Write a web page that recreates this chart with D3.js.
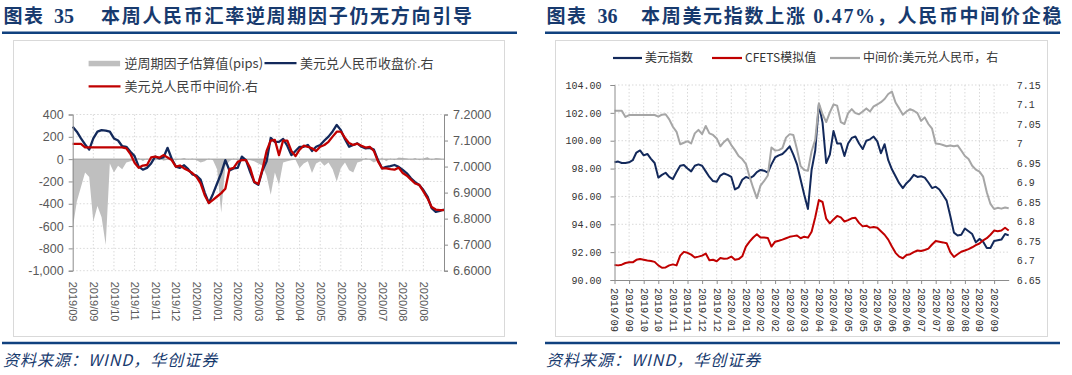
<!DOCTYPE html>
<html><head><meta charset="utf-8">
<script src="https://cdn.jsdelivr.net/npm/d3@7"></script>
<style>body{margin:0;background:#fff}svg{display:block}</style>
</head><body><svg id="c" width="1072" height="375"></svg>
<script>
// ---------- Left chart data ----------
const leftDateLabels = ["2019/09","2019/09","2019/10","2019/11","2019/11","2019/12","2020/01","2020/01","2020/02","2020/03","2020/04","2020/04","2020/05","2020/06","2020/06","2020/07","2020/08","2020/08"];
const reverseFactor = [-620,-380,-250,-120,-160,-560,-420,-520,-770,-40,
 -120,-60,-90,-30,-20,-10,10,-20,5,-10,
 -5,10,-15,-5,5,-10,0,10,-5,5,
 -10,-30,-20,5,-10,-90,-480,-60,-20,5,
 -10,15,-5,-10,-20,-40,-60,-150,-320,-120,
 -230,-30,-20,-10,-5,-80,-40,-20,-125,-40,
 -20,-60,-30,-90,-200,-80,-30,-100,-120,-30,
 -20,10,-5,-30,-10,10,-20,5,-10,15,
 10,5,-5,10,-10,5,20,-10,10,5,-5];
const usdCnyClose = [7.153,7.134,7.108,7.085,7.065,7.108,7.134,7.140,7.138,7.134,
 7.108,7.100,7.078,7.076,7.057,7.040,7.000,6.988,6.995,7.012,
 7.038,7.031,7.035,7.072,7.030,7.000,6.995,7.005,6.990,6.970,
 6.965,6.950,6.900,6.860,6.895,6.935,6.975,7.025,6.985,6.993,
 6.995,7.038,7.025,6.980,6.940,6.930,6.985,7.020,7.110,7.095,
 7.095,7.106,7.080,7.044,7.060,7.076,7.076,7.083,7.060,7.076,
 7.083,7.100,7.115,7.135,7.160,7.140,7.105,7.076,7.083,7.089,
 7.076,7.070,7.072,7.065,7.025,6.993,6.999,7.002,7.006,6.999,
 6.987,6.974,6.955,6.940,6.929,6.910,6.885,6.840,6.826,6.830,6.835];
const usdCnyMid = [7.087,7.087,7.087,7.074,7.074,7.074,7.074,7.074,7.074,7.074,
 7.074,7.074,7.074,7.070,7.048,7.015,6.995,7.004,7.006,7.035,
 7.038,7.034,7.044,7.035,7.025,7.000,7.004,6.993,6.985,6.975,
 6.960,6.935,6.890,6.860,6.872,6.885,6.898,6.915,6.990,6.995,
 7.018,7.025,7.025,6.995,6.942,6.933,6.990,7.060,7.100,7.102,
 7.044,7.100,7.100,7.060,7.040,7.065,7.080,7.076,7.070,7.060,
 7.076,7.083,7.095,7.115,7.134,7.134,7.110,7.090,7.083,7.088,
 7.080,7.073,7.076,7.060,7.020,6.993,6.993,6.990,6.988,6.996,
 6.975,6.965,6.950,6.935,6.930,6.905,6.878,6.845,6.835,6.833,6.833];
const leftTickValues = [400,200,0,-200,-400,-600,-800,-1000];
const leftTickLabels = ["400","200","0","-200","-400","-600","-800","-1,000"];
const rightTickValues = [7.2,7.1,7.0,6.9,6.8,6.7,6.6];
const rightTickLabels = ["7.2000","7.1000","7.0000","6.9000","6.8000","6.7000","6.6000"];

// ---------- Right chart data ----------
const rightDateLabels = ["2019/09","2019/09","2019/10","2019/10","2019/11","2019/11","2019/12","2019/12","2020/01","2020/01","2020/02","2020/02","2020/03","2020/03","2020/04","2020/04","2020/05","2020/05","2020/05","2020/06","2020/06","2020/07","2020/07","2020/08","2020/08","2020/09","2020/09"];
const usdIndex = [98.45,98.5,98.4,98.4,98.45,98.6,99.15,99.3,98.95,99.05,
 98.7,98.4,97.35,97.55,97.7,97.4,97.25,97.75,98.2,98.25,
 98.0,97.8,98.2,98.3,98.2,97.8,97.4,97.1,97.05,97.5,
 97.65,97.55,97.4,96.5,96.65,97.2,97.4,97.3,97.45,97.75,
 97.9,97.85,97.7,98.3,98.8,98.95,99.05,99.3,99.6,99.0,
 98.3,97.2,96.1,95.1,97.9,99.3,102.6,101.3,98.4,99.0,
 100.7,99.8,99.8,98.9,99.8,100.2,100.3,99.8,99.4,100.0,
 100.1,100.3,99.95,99.1,99.75,98.6,97.95,97.45,96.95,96.6,
 96.95,97.2,97.55,97.4,97.45,97.35,97.0,96.6,96.7,96.5,
 96.1,95.7,94.6,93.4,93.2,93.25,93.7,93.5,93.3,92.7,
 92.95,92.75,92.3,92.3,92.8,92.85,92.9,93.3,93.2];
const cfetsSim = [91.08,91.05,91.1,91.22,91.27,91.27,91.45,91.5,91.45,91.4,
 91.36,91.3,91.05,90.88,90.9,91.05,91.12,91.05,91.75,92.02,
 91.95,91.82,91.62,91.68,91.75,91.9,91.42,91.45,91.35,91.58,
 91.52,91.55,91.68,91.45,91.5,91.7,92.4,92.75,93.05,93.28,
 93.05,93.05,93.02,92.4,92.75,92.82,92.9,93.0,93.1,93.15,
 93.2,93.0,93.11,93.04,93.47,94.5,95.74,95.6,94.4,94.07,
 94.35,94.6,94.5,94.2,94.3,94.43,94.47,94.1,93.85,93.9,
 93.76,93.8,93.75,93.5,93.25,92.9,92.4,91.95,91.68,91.56,
 91.8,91.85,92.0,92.12,92.08,92.15,92.25,92.55,92.8,92.75,
 92.7,92.64,92.0,91.65,91.85,92.03,92.12,92.22,92.35,92.5,
 92.62,92.85,93.0,93.25,93.55,93.5,93.55,93.75,93.55];
const midUsdCny = [7.084,7.084,7.084,7.068,7.073,7.073,7.073,7.073,7.073,7.073,
 7.073,7.073,7.069,7.074,7.075,7.062,7.043,7.030,6.998,7.002,
 7.006,7.000,7.026,7.035,7.024,7.045,7.026,7.022,7.013,6.993,
 7.004,7.012,6.996,6.983,6.968,6.960,6.948,6.915,6.886,6.860,
 6.892,6.904,6.918,6.990,6.982,6.983,6.988,7.015,7.024,7.022,
 6.985,6.942,6.932,6.930,6.980,7.010,7.103,7.075,7.055,7.080,
 7.100,7.097,7.055,7.050,7.078,7.088,7.078,7.075,7.082,7.090,
 7.082,7.095,7.100,7.106,7.114,7.127,7.133,7.105,7.090,7.074,
 7.082,7.088,7.084,7.078,7.058,7.067,7.050,7.038,7.000,6.999,
 6.996,6.993,6.995,6.993,6.995,6.982,6.968,6.960,6.943,6.933,
 6.928,6.915,6.875,6.845,6.832,6.835,6.833,6.836,6.834];
const r2LeftTicks = [104,102,100,98,96,94,92,90];
const r2LeftLabels = ["104.00","102.00","100.00","98.00","96.00","94.00","92.00","90.00"];
const r2RightTicks = [7.15,7.1,7.05,7.0,6.95,6.9,6.85,6.8,6.75,6.7,6.65];
const r2RightLabels = ["7.15","7.1","7.05","7","6.95","6.9","6.85","6.8","6.75","6.7","6.65"];

// ---------- Drawing ----------
const svg = d3.select("#c");
svg.append("rect").attr("width",1072).attr("height",375).attr("fill","#fff");
const NAVY = "#13295B", RED = "#C00000", TITLE = "#173A6E";
const CJK = "'Noto Sans CJK SC', sans-serif";

function header(x0, x1, num, parts, numX, titleX) {
  const g = svg.append("g");
  g.append("text").attr("x", x0 + 1.5).attr("y", 23).attr("fill", TITLE)
    .style("font", "700 19px " + CJK).style("letter-spacing", "1.5px").text("图表");
  g.append("text").attr("x", numX).attr("y", 23).attr("fill", TITLE)
    .style("font", "700 20px 'Liberation Serif', serif").text(num);
  const t = g.append("text").attr("x", titleX).attr("y", 23).attr("fill", TITLE)
    .style("font", "700 19px " + CJK).style("letter-spacing", "1.7px");
  parts.forEach(p => {
    t.append("tspan").style("font-family", p.serif ? "'Liberation Serif', serif" : null)
      .style("font-size", p.serif ? "20px" : null).text(p.t);
  });
  g.append("line").attr("x1", x0).attr("x2", x1).attr("y1", 32.8).attr("y2", 32.8)
    .attr("stroke", "#10417F").attr("stroke-width", 2.6);
  g.append("line").attr("x1", x0).attr("x2", x1).attr("y1", 343).attr("y2", 343)
    .attr("stroke", "#10417F").attr("stroke-width", 2.6);
  g.append("text").attr("x", x0 + 1).attr("y", 366).attr("fill", TITLE)
    .style("font", "italic 16px " + CJK).style("letter-spacing", "1px").text("资料来源：WIND，华创证券");
}
header(2, 517, "35", [{t:"本周人民币汇率逆周期因子仍无方向引导"}], 54, 101);
header(545, 1060, "36", [{t:"本周美元指数上涨"},{t:" 0.47%",serif:true},{t:"，人民币中间价企稳"}], 597.5, 641);

// boxes
svg.append("rect").attr("x",13.5).attr("y",40.5).attr("width",491).attr("height",296)
  .attr("fill","none").attr("stroke","#D9D9D9");
svg.append("rect").attr("x",555.5).attr("y",40.5).attr("width",492).attr("height",296)
  .attr("fill","none").attr("stroke","#D9D9D9");

// ===== Left chart =====
(function(){
  const g = svg.append("g");
  const xL = d3.scaleLinear().domain([0, usdCnyClose.length - 1]).range([72.7, 444]);
  const yA = d3.scaleLinear().domain([-1000, 400]).range([270.7, 114.5]);
  const yB = d3.scaleLinear().domain([6.6, 7.2]).range([270.7, 114.5]);
  const step = 5;
  leftTickValues.filter(v => v !== 0).forEach(v => {
    g.append("line").attr("x1", xL(0)).attr("x2", xL.range()[1]).attr("y1", yA(v)).attr("y2", yA(v))
      .attr("stroke", "#D9D9D9").attr("stroke-dasharray", "1.5,2");
  });
  leftDateLabels.forEach((d, k) => {
    if (k === 0) return;
    g.append("line").attr("x1", xL(k*step)).attr("x2", xL(k*step)).attr("y1", yA(400)).attr("y2", yA(-1000))
      .attr("stroke", "#D9D9D9").attr("stroke-dasharray", "1.5,2");
  });
  g.append("path").datum(reverseFactor)
    .attr("d", d3.area().x((d,i)=>xL(i)).y0(yA(0)).y1(d=>yA(d)))
    .attr("fill", "#BFBFBF");
  g.append("line").attr("x1", xL(0)).attr("x2", xL.range()[1]).attr("y1", yA(0)).attr("y2", yA(0))
    .attr("stroke", "#9A9A9A").attr("stroke-width", 1);
  const line = d3.line().x((d,i)=>xL(i)).y(d=>yB(d));
  g.append("path").datum(usdCnyClose).attr("d", line).attr("fill","none")
    .attr("stroke", NAVY).attr("stroke-width", 2.3).attr("stroke-linejoin","round");
  g.append("path").datum(usdCnyMid).attr("d", line).attr("fill","none")
    .attr("stroke", RED).attr("stroke-width", 2.3).attr("stroke-linejoin","round");
  const ax = g.append("g").attr("transform", `translate(${xL(0)},0)`)
    .call(d3.axisLeft(yA).tickValues(leftTickValues).tickFormat((d,i)=>leftTickLabels[i]).tickSize(4).tickPadding(5));
  const ax2 = g.append("g").attr("transform", `translate(${xL.range()[1]},0)`)
    .call(d3.axisRight(yB).tickValues(rightTickValues).tickFormat((d,i)=>rightTickLabels[i]).tickSize(4).tickPadding(5));
  [ax, ax2].forEach(a => {
    a.select(".domain").attr("stroke", "#8C8C8C");
    a.selectAll(".tick line").attr("stroke", "#8C8C8C");
    a.selectAll("text").attr("fill", "#595959").style("font", "12.5px 'Liberation Sans', Arial, sans-serif");
  });
  const axb = g.append("g").attr("transform", `translate(0,${yA(-1000)})`)
    .call(d3.axisBottom(xL).tickValues(leftDateLabels.map((d,k)=>k*step)).tickFormat((d,i)=>leftDateLabels[i]).tickSize(0));
  axb.select(".domain").remove();
  axb.selectAll("text").attr("fill", "#595959").style("font", "11px 'Liberation Sans', Arial, sans-serif")
    .attr("transform", "rotate(90)").attr("text-anchor", "start").attr("x", 11).attr("y", 0).attr("dy", "0.35em");
  const lg = g.append("g").style("font", "13px " + CJK).attr("fill", "#404040");
  lg.append("rect").attr("x", 88.6).attr("y", 60.8).attr("width", 31.5).attr("height", 5.5).attr("fill", "#BFBFBF");
  lg.append("text").attr("x", 124.5).attr("y", 63.5).attr("dy", "0.35em").text("逆周期因子估算值(pips)");
  lg.append("line").attr("x1", 264.5).attr("x2", 296.5).attr("y1", 63.2).attr("y2", 63.2).attr("stroke", NAVY).attr("stroke-width", 2.3);
  lg.append("text").attr("x", 300).attr("y", 63.5).attr("dy", "0.35em").text("美元兑人民币收盘价.右");
  lg.append("line").attr("x1", 88.6).attr("x2", 120.5).attr("y1", 86.4).attr("y2", 86.4).attr("stroke", RED).attr("stroke-width", 2.3);
  lg.append("text").attr("x", 124.5).attr("y", 86.6).attr("dy", "0.35em").text("美元兑人民币中间价.右");
})();

// ===== Right chart =====
(function(){
  const g = svg.append("g");
  const xR = d3.scaleLinear().domain([0, usdIndex.length - 1]).range([614.5, 1008.7]);
  const yA = d3.scaleLinear().domain([90, 104]).range([280, 85]);
  const yB = d3.scaleLinear().domain([6.65, 7.15]).range([280, 85]);
  const step = 4;
  r2LeftTicks.filter(v => v !== 90).forEach(v => {
    g.append("line").attr("x1", xR(0)).attr("x2", xR.range()[1]).attr("y1", yA(v)).attr("y2", yA(v))
      .attr("stroke", "#D9D9D9").attr("stroke-dasharray", "1.5,2");
  });
  rightDateLabels.forEach((d, k) => {
    if (k === 0) return;
    g.append("line").attr("x1", xR(k*step)).attr("x2", xR(k*step)).attr("y1", yA(104)).attr("y2", yA(90))
      .attr("stroke", "#D9D9D9").attr("stroke-dasharray", "1.5,2");
  });
  const lA = d3.line().x((d,i)=>xR(i)).y(d=>yA(d));
  const lB = d3.line().x((d,i)=>xR(i)).y(d=>yB(d));
  g.append("path").datum(usdIndex).attr("d", lA).attr("fill","none").attr("stroke", NAVY).attr("stroke-width", 2).attr("stroke-linejoin","round");
  g.append("path").datum(cfetsSim).attr("d", lA).attr("fill","none").attr("stroke", RED).attr("stroke-width", 2).attr("stroke-linejoin","round");
  g.append("path").datum(midUsdCny).attr("d", lB).attr("fill","none").attr("stroke", "#A6A6A6").attr("stroke-width", 2).attr("stroke-linejoin","round");
  const ax = g.append("g").attr("transform", `translate(${xR(0)},0)`)
    .call(d3.axisLeft(yA).tickValues(r2LeftTicks).tickFormat((d,i)=>r2LeftLabels[i]).tickSize(4).tickPadding(9));
  const ax2 = g.append("g").attr("transform", `translate(${xR.range()[1]},0)`)
    .call(d3.axisRight(yB).tickValues(r2RightTicks).tickFormat((d,i)=>r2RightLabels[i]).tickSize(0).tickPadding(8));
  ax2.select(".domain").remove();
  const axb = g.append("g").attr("transform", `translate(0,${yA(90)})`)
    .call(d3.axisBottom(xR).tickValues(rightDateLabels.map((d,k)=>k*step)).tickFormat((d,i)=>rightDateLabels[i]).tickSize(4).tickSizeOuter(0));
  [ax, ax2, axb].forEach(a => {
    a.select(".domain").attr("stroke", "#8C8C8C");
    a.selectAll(".tick line").attr("stroke", "#8C8C8C");
    a.selectAll("text").attr("fill", "#333").style("font", "10px 'Liberation Mono', monospace");
  });
  axb.selectAll("text").style("font", "10.5px 'Liberation Mono', monospace")
    .attr("transform", "rotate(90)").attr("text-anchor", "start").attr("x", 8).attr("y", 0).attr("dy", "0.35em");
  const lg = g.append("g").style("font", "12px " + CJK).attr("fill", "#333");
  lg.append("line").attr("x1", 613).attr("x2", 642).attr("y1", 58).attr("y2", 58).attr("stroke", NAVY).attr("stroke-width", 2.2);
  lg.append("text").attr("x", 645).attr("y", 58).attr("dy", "0.35em").text("美元指数");
  lg.append("line").attr("x1", 712).attr("x2", 742).attr("y1", 58).attr("y2", 58).attr("stroke", RED).attr("stroke-width", 2.2);
  lg.append("text").attr("x", 745).attr("y", 58).attr("dy", "0.35em").text("CFETS模拟值");
  lg.append("line").attr("x1", 830).attr("x2", 860).attr("y1", 58).attr("y2", 58).attr("stroke", "#A6A6A6").attr("stroke-width", 2.2);
  lg.append("text").attr("x", 863).attr("y", 58).attr("dy", "0.35em").text("中间价:美元兑人民币，右");
})();
</script></body></html>
